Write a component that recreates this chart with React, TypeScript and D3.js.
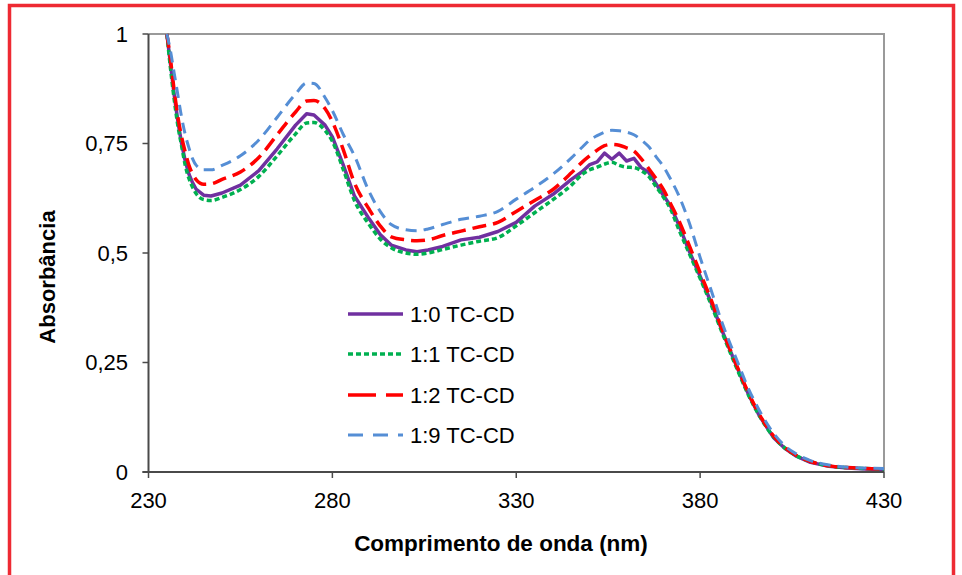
import * as d3 from "d3";

// wavelength grid (nm)
const wavelengths = [
  235, 236, 237, 238, 239, 240, 241, 242, 243, 245, 247, 250, 255, 260, 265, 270, 273, 275, 278, 280,
  283, 286, 290, 293, 296, 300, 303, 306, 310, 315, 320, 325, 330, 335, 340, 345, 348, 350, 352, 354,
  356, 358, 360, 362, 364, 366, 368, 370, 372, 374, 377, 380, 383, 386, 390, 393, 396, 400, 403, 406,
  410, 415, 420, 425, 430,
];

// 1:0 TC-CD
const abs10 = [
  1.0, 0.93, 0.86, 0.8, 0.75, 0.71, 0.68, 0.66, 0.645, 0.632, 0.63, 0.637, 0.655, 0.688, 0.738, 0.792, 0.818, 0.815, 0.792, 0.765,
  0.7, 0.63, 0.578, 0.542, 0.518, 0.507, 0.503, 0.507, 0.515, 0.53, 0.536, 0.549, 0.57, 0.607, 0.634, 0.668, 0.686, 0.702, 0.708, 0.728,
  0.714, 0.728, 0.71, 0.716, 0.695, 0.684, 0.658, 0.632, 0.607, 0.568, 0.505, 0.447, 0.387, 0.322, 0.24, 0.18, 0.13, 0.078, 0.054, 0.037,
  0.022, 0.013, 0.009, 0.007, 0.005,
];

// 1:1 TC-CD
const abs11 = [
  1.0, 0.92, 0.85, 0.79, 0.745, 0.7, 0.67, 0.65, 0.635, 0.622, 0.62, 0.627, 0.645, 0.675, 0.722, 0.772, 0.797, 0.798, 0.78, 0.755,
  0.69, 0.62, 0.565, 0.532, 0.512, 0.5, 0.497, 0.5, 0.508, 0.518, 0.527, 0.535, 0.562, 0.592, 0.622, 0.655, 0.68, 0.69, 0.696, 0.703,
  0.707, 0.7, 0.696, 0.695, 0.688, 0.675, 0.652, 0.628, 0.6, 0.558, 0.5, 0.442, 0.382, 0.318, 0.236, 0.178, 0.13, 0.08, 0.055, 0.038,
  0.024, 0.014, 0.01, 0.008, 0.007,
];

// 1:2 TC-CD
const abs12 = [
  1.0, 0.94, 0.87, 0.81, 0.765, 0.73, 0.7, 0.68, 0.667, 0.657, 0.658, 0.668, 0.685, 0.718, 0.77, 0.822, 0.847, 0.848, 0.83, 0.8,
  0.735, 0.66, 0.6, 0.562, 0.537, 0.53, 0.528, 0.53, 0.54, 0.55, 0.56, 0.57, 0.595, 0.62, 0.645, 0.683, 0.708, 0.722, 0.735, 0.745,
  0.748, 0.746, 0.74, 0.733, 0.715, 0.693, 0.67, 0.645, 0.612, 0.578, 0.518, 0.455, 0.393, 0.325, 0.242, 0.183, 0.133, 0.082, 0.056, 0.039,
  0.024, 0.014, 0.01, 0.008, 0.007,
];

// 1:9 TC-CD
const abs19 = [
  1.0, 0.96, 0.91, 0.86, 0.81, 0.77, 0.74, 0.715, 0.7, 0.69, 0.69, 0.7, 0.722, 0.758, 0.81, 0.863, 0.888, 0.887, 0.855, 0.825,
  0.77, 0.722, 0.64, 0.595, 0.565, 0.553, 0.551, 0.555, 0.565, 0.577, 0.584, 0.595, 0.623, 0.65, 0.68, 0.717, 0.742, 0.758, 0.768, 0.776,
  0.78, 0.779, 0.776, 0.77, 0.758, 0.743, 0.72, 0.698, 0.668, 0.635, 0.57, 0.49, 0.415, 0.34, 0.255, 0.193, 0.142, 0.088, 0.06, 0.042,
  0.026, 0.016, 0.011, 0.009, 0.008,
];

const seriesNames = ["1:0 TC-CD", "1:1 TC-CD", "1:2 TC-CD", "1:9 TC-CD"];
const xTicks = [230, 280, 330, 380, 430];
const yTicks = [0, 0.25, 0.5, 0.75, 1];
const yTickLabels = ["0", "0,25", "0,5", "0,75", "1"];

const styles = [
  { color: "#7030A0", width: 3.5, dash: null, legendDash: null, curve: d3.curveLinear },
  { color: "#00B050", width: 3.5, dash: "5,3", legendDash: "5,3", curve: d3.curveMonotoneX },
  { color: "#FF0000", width: 3.5, dash: "14,7", legendDash: "28,10", curve: d3.curveMonotoneX },
  { color: "#558ED5", width: 3, dash: "11,7", legendDash: "15,10", curve: d3.curveMonotoneX },
];

const font = "Arial, 'Liberation Sans', sans-serif";

export default function App() {
  const width = 962;
  const height = 575;
  const plot = { left: 148.5, right: 884, top: 34, bottom: 472 };

  const x = d3.scaleLinear().domain([230, 430]).range([plot.left, plot.right]);
  const y = d3.scaleLinear().domain([0, 1]).range([plot.bottom, plot.top]);

  const allSeries = [abs10, abs11, abs12, abs19];

  const legendY = [314, 354, 395, 435];

  return (
    <svg
      width={width}
      height={height}
      style={{ position: "absolute", left: 0, top: 0, background: "white" }}
      fontFamily={font}
    >
      <rect x={0} y={0} width={width} height={height} fill="white" />
      {/* outer red frame */}
      <rect x={9.5} y={5.5} width={944} height={620} fill="none" stroke="#EE2A33" strokeWidth={3.5} />

      {/* top and right plot border */}
      <path
        d={`M${plot.left},${plot.top}H${plot.right}V${plot.bottom}`}
        fill="none"
        stroke="#9A9A9A"
        strokeWidth={2}
      />

      {/* series */}
      {allSeries.map((vals, i) => {
        const line = d3
          .line<number>()
          .x((_, j) => x(wavelengths[j]))
          .y((d) => y(d))
          .curve(styles[i].curve);
        return (
          <path
            key={i}
            d={line(vals) || ""}
            fill="none"
            stroke={styles[i].color}
            strokeWidth={styles[i].width}
            strokeDasharray={styles[i].dash || undefined}
            strokeLinejoin="round"
          />
        );
      })}

      {/* axes */}
      <line x1={plot.left} x2={plot.left} y1={plot.top} y2={plot.bottom} stroke="#4A4A4A" strokeWidth={2} />
      <line x1={plot.left - 6} x2={plot.right} y1={plot.bottom} y2={plot.bottom} stroke="#4A4A4A" strokeWidth={2} />

      {yTicks.map((t, i) => (
        <g key={t}>
          <line x1={plot.left - 6} x2={plot.left} y1={y(t)} y2={y(t)} stroke="#4A4A4A" strokeWidth={1.5} />
          <text x={128} y={y(t)} dy="0.36em" textAnchor="end" fontSize={22} fill="#000">
            {yTickLabels[i]}
          </text>
        </g>
      ))}

      {xTicks.map((t) => (
        <g key={t}>
          <line x1={x(t)} x2={x(t)} y1={plot.bottom} y2={plot.bottom + 6} stroke="#4A4A4A" strokeWidth={1.5} />
          <text x={x(t)} y={508} textAnchor="middle" fontSize={22} fill="#000">
            {t}
          </text>
        </g>
      ))}

      {/* axis titles */}
      <text x={501} y={551} textAnchor="middle" fontSize={22.5} fontWeight="bold" fill="#000">
        Comprimento de onda (nm)
      </text>
      <text
        transform={`translate(55,277) rotate(-90)`}
        textAnchor="middle"
        fontSize={22}
        fontWeight="bold"
        fill="#000"
      >
        Absorbância
      </text>

      {/* legend */}
      {seriesNames.map((name, i) => (
        <g key={name}>
          <line
            x1={348}
            x2={403}
            y1={legendY[i]}
            y2={legendY[i]}
            stroke={styles[i].color}
            strokeWidth={styles[i].width}
            strokeDasharray={styles[i].legendDash || undefined}
          />
          <text x={410} y={legendY[i]} dy="0.36em" fontSize={22} fill="#000">
            {name}
          </text>
        </g>
      ))}
    </svg>
  );
}
